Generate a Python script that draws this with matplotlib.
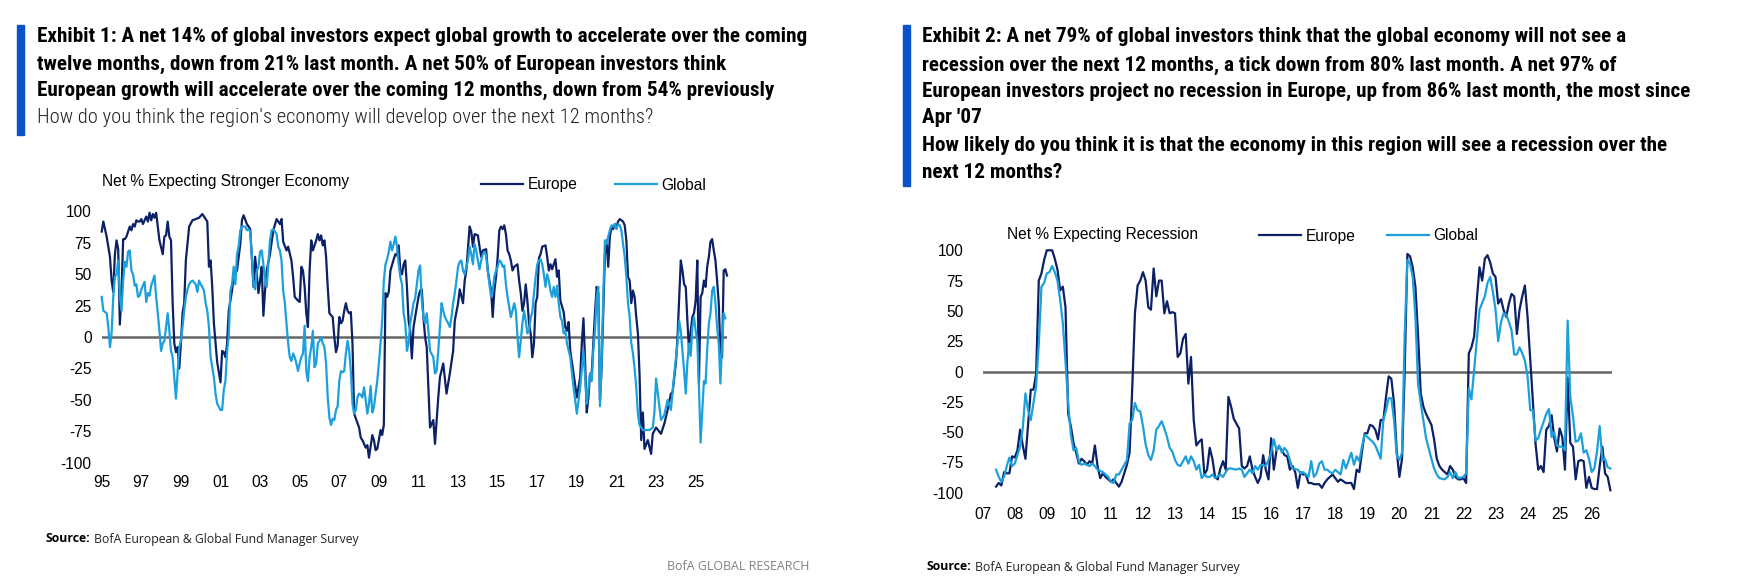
import numpy as np
import matplotlib
matplotlib.use("Agg")
import matplotlib.pyplot as plt
from matplotlib import font_manager as fm
from matplotlib.patches import Rectangle

plt.rcParams['font.family'] = ['Liberation Sans', 'DejaVu Sans']
plt.rcParams['axes.unicode_minus'] = False

# ---- data (month index, net %) ----
# Exhibit 1: months counted from Jan 1995
growth_europe = [(0,84),(1,92),(3,80),(5,64),(6,45),(7,36),(8,66),(9,77),(10,70),(11,10),(12,35),(13,78),(14,78),(15,80),(16,84),(17,88),(18,85),(19,90),(20,88),(21,93),(22,92),(23,92),(24,94),(25,90),(26,93),(27,96),(28,92),(29,99),(30,93),(31,98),(32,95),(33,99),(34,88),(35,77),(37,66),(38,80),(39,81),(40,92),(41,80),(42,77),(43,27),(44,-5),(45,-12),(46,-8),(47,-25),(48,-5),(49,19),(50,27),(51,61),(53,88),(55,93),(57,94),(59,95),(61,98),(63,94),(64,92),(65,56),(66,61),(67,40),(68,11),(69,-5),(70,-20),(72,-36),(73,-11),(74,-12),(75,-16),(76,-5),(77,21),(79,37),(80,48),(82,53),(84,74),(85,93),(86,97),(88,90),(89,88),(90,86),(91,64),(92,40),(93,64),(94,50),(95,35),(96,45),(97,56),(98,17),(99,37),(100,53),(102,66),(104,85),(106,94),(108,90),(109,94),(110,76),(112,69),(113,72),(115,61),(116,48),(117,32),(119,29),(120,28),(121,56),(122,53),(123,40),(124,19),(125,8),(126,53),(127,77),(128,69),(129,73),(130,77),(131,82),(132,77),(133,81),(134,73),(135,77),(136,64),(137,40),(138,19),(140,16),(141,0),(142,-12),(143,-7),(144,16),(145,11),(146,13),(147,21),(148,27),(149,21),(150,19),(151,20),(152,-5),(153,-61),(156,-72),(157,-80),(158,-82),(160,-88),(161,-86),(162,-96),(164,-78),(165,-82),(166,-90),(167,-89),(168,-82),(169,-74),(170,-78),(171,-70),(172,35),(173,32),(174,36),(175,53),(177,62),(178,66),(179,65),(180,73),(181,53),(182,50),(183,58),(184,61),(185,40),(186,13),(187,5),(188,-17),(189,8),(190,16),(191,24),(192,32),(193,37),(194,38),(195,16),(196,0),(197,-8),(199,-72),(201,-66),(202,-85),(204,-48),(205,-32),(207,-21),(209,-45),(211,-29),(213,-11),(214,13),(216,27),(217,38),(219,27),(220,45),(221,53),(223,88),(224,84),(225,72),(226,82),(228,81),(229,72),(230,64),(231,69),(233,70),(234,53),(235,45),(236,37),(237,16),(238,37),(239,48),(240,64),(241,85),(242,88),(243,86),(244,89),(245,82),(246,69),(247,66),(248,61),(249,53),(250,56),(252,58),(253,45),(254,35),(255,21),(256,27),(257,42),(258,29),(259,11),(260,3),(261,-16),(262,-5),(263,27),(264,32),(265,63),(266,66),(267,72),(269,73),(270,64),(271,53),(272,58),(273,54),(275,62),(276,48),(277,53),(278,29),(280,20),(281,8),(282,5),(283,12),(284,-11),(286,-29),(288,-48),(290,-32),(291,-5),(292,15),(293,-20),(294,-60),(295,-48),(296,-29),(297,-29),(298,-5),(299,20),(300,40),(301,35),(302,-50),(303,-25),(304,20),(305,66),(306,77),(307,56),(308,80),(309,88),(310,86),(311,90),(312,88),(313,92),(314,94),(315,93),(316,92),(317,89),(318,77),(319,48),(320,45),(321,27),(322,37),(323,32),(324,16),(325,3),(326,-30),(327,-82),(328,-60),(329,-89),(331,-82),(333,-93),(334,-77),(336,-72),(339,-77),(341,-69),(343,-58),(345,-45),(346,-44),(348,-21),(349,0),(351,61),(352,53),(353,42),(354,40),(355,13),(356,-11),(357,5),(358,16),(359,19),(360,29),(361,61),(362,-37),(363,32),(364,35),(365,45),(366,40),(367,56),(368,64),(369,76),(370,78),(371,69),(372,61),(373,45),(374,27),(375,-11),(376,-16),(377,53),(378,54),(379,49)]

growth_global = [(0,32),(1,21),(3,19),(4,8),(5,-8),(6,3),(7,32),(8,48),(9,50),(10,61),(11,32),(12,21),(13,45),(14,60),(15,56),(16,68),(17,69),(18,53),(19,50),(20,41),(21,42),(22,32),(23,33),(24,38),(25,41),(26,44),(27,28),(28,35),(29,33),(30,41),(31,45),(32,49),(33,32),(34,19),(35,5),(36,-11),(37,-5),(38,-3),(39,8),(40,19),(41,5),(42,-11),(43,-16),(44,-32),(45,-49),(46,-29),(47,-8),(48,-3),(49,8),(50,21),(51,32),(52,38),(53,42),(54,44),(55,45),(57,42),(58,36),(59,45),(60,42),(61,40),(62,37),(63,27),(64,21),(65,8),(66,-16),(67,-24),(68,-32),(69,-45),(70,-53),(72,-58),(73,-58),(74,-42),(75,-35),(76,-11),(77,0),(78,37),(79,42),(80,56),(81,42),(82,66),(83,72),(84,85),(85,88),(87,88),(88,85),(89,86),(90,84),(91,65),(92,42),(93,38),(94,53),(95,56),(96,68),(97,69),(98,58),(99,45),(100,40),(102,77),(103,85),(104,86),(106,82),(107,72),(108,69),(109,61),(110,37),(111,27),(112,11),(113,-5),(114,-16),(115,-19),(116,-13),(117,-16),(118,-21),(119,-27),(120,-21),(121,-16),(122,-13),(123,9),(124,-27),(125,-35),(126,-16),(127,-8),(128,5),(129,-24),(130,-21),(131,-5),(132,-3),(133,0),(134,-5),(135,-8),(136,-21),(137,-48),(138,-64),(139,-70),(140,-65),(141,-66),(142,-58),(143,-55),(144,-35),(145,-27),(146,-28),(147,-27),(148,-13),(149,-3),(150,-11),(151,-27),(152,-53),(153,-61),(154,-58),(155,-48),(156,-45),(157,-46),(158,-48),(159,-40),(160,-50),(161,-61),(162,-53),(163,-39),(164,-60),(165,-56),(166,-45),(167,-35),(168,-21),(169,-5),(170,13),(171,45),(172,58),(173,62),(174,68),(175,76),(176,69),(177,74),(178,80),(179,72),(180,58),(181,48),(182,42),(183,19),(184,11),(185,-11),(186,-5),(187,11),(188,19),(189,27),(190,31),(191,42),(192,53),(193,57),(194,29),(195,16),(196,11),(197,19),(198,5),(199,-11),(201,-16),(202,-29),(203,-27),(204,-11),(205,8),(206,27),(207,21),(208,16),(210,11),(211,8),(212,16),(213,27),(214,35),(215,45),(216,56),(217,60),(218,61),(219,53),(220,50),(221,56),(222,61),(223,72),(224,66),(225,58),(226,74),(227,69),(228,61),(229,54),(230,61),(231,66),(232,68),(233,65),(234,53),(235,42),(236,32),(237,37),(238,48),(239,53),(240,56),(241,61),(242,60),(243,56),(244,57),(245,42),(246,32),(247,24),(248,16),(249,21),(250,27),(251,21),(252,0),(253,-16),(255,11),(256,21),(257,13),(258,3),(259,5),(260,15),(261,20),(262,35),(263,48),(264,58),(265,61),(266,62),(267,58),(268,50),(269,40),(270,50),(271,45),(272,37),(273,32),(274,40),(275,32),(276,41),(277,27),(278,16),(279,13),(280,3),(281,5),(282,-5),(284,-16),(286,-40),(288,-61),(290,-40),(292,-11),(294,-53),(296,-29),(297,-35),(298,-10),(299,5),(300,32),(301,40),(302,-55),(303,-20),(304,32),(305,77),(306,74),(307,80),(308,85),(309,89),(310,88),(311,90),(312,86),(313,90),(314,89),(315,85),(316,74),(317,64),(318,48),(319,27),(320,16),(321,-5),(322,-13),(323,-25),(324,-40),(325,-61),(326,-70),(328,-74),(330,-74),(332,-74),(334,-72),(335,-60),(336,-33),(338,-55),(339,-66),(341,-62),(343,-50),(345,-58),(347,-30),(349,-5),(350,13),(351,5),(352,-11),(353,-27),(354,-45),(355,-20),(356,-5),(357,-15),(358,8),(359,16),(360,5),(361,-3),(362,-40),(363,-84),(364,-60),(365,-35),(366,-37),(367,-10),(368,11),(369,19),(370,37),(371,40),(372,27),(373,8),(374,-5),(375,-37),(376,-5),(377,19),(378,15)]

# Exhibit 2: months counted from Jan 2007
recession_europe = [(5,-95),(6,-92),(7,-94),(8,-83),(9,-84),(10,-84),(11,-70),(12,-71),(13,-65),(14,-48),(15,-61),(16,-72),(17,-43),(18,-15),(19,-15),(20,-2),(21,75),(22,81),(23,92),(24,100),(25,100),(26,100),(27,93),(28,84),(29,67),(30,70),(31,53),(32,-35),(33,-45),(34,-59),(35,-67),(36,-76),(37,-72),(38,-74),(39,-77),(40,-74),(41,-76),(42,-61),(43,-78),(44,-88),(45,-84),(46,-87),(47,-89),(48,-91),(49,-89),(50,-92),(51,-95),(52,-91),(53,-84),(54,-77),(55,-67),(56,-13),(57,48),(58,71),(59,75),(60,82),(61,75),(62,53),(63,51),(64,85),(65,62),(66,75),(67,75),(68,48),(69,58),(70,48),(71,49),(72,48),(73,12),(74,15),(75,27),(76,31),(77,-10),(78,12),(79,-40),(80,-61),(81,-58),(82,-56),(83,-85),(84,-81),(85,-63),(86,-72),(87,-87),(88,-89),(89,-80),(90,-74),(91,-81),(92,-21),(93,-29),(94,-39),(95,-43),(96,-47),(97,-78),(98,-80),(99,-78),(100,-70),(101,-81),(102,-87),(103,-92),(104,-87),(105,-69),(106,-81),(107,-89),(108,-55),(109,-81),(110,-65),(111,-62),(112,-65),(113,-69),(114,-70),(115,-81),(116,-78),(117,-83),(118,-96),(119,-83),(120,-85),(121,-85),(122,-92),(123,-92),(124,-93),(125,-93),(126,-93),(127,-96),(128,-92),(129,-89),(131,-85),(132,-88),(133,-91),(134,-89),(136,-92),(138,-92),(139,-97),(140,-81),(141,-83),(142,-66),(143,-51),(144,-51),(145,-44),(146,-45),(147,-48),(148,-56),(149,-40),(150,-40),(151,-21),(152,-4),(153,-6),(154,-26),(155,-65),(156,-87),(157,-72),(158,1),(159,97),(160,95),(161,86),(162,70),(163,30),(164,-18),(165,-29),(166,-35),(168,-44),(169,-56),(170,-72),(171,-78),(172,-81),(173,-83),(174,-85),(175,-78),(176,-81),(177,-87),(178,-89),(179,-89),(180,-88),(181,-92),(182,15),(183,20),(184,29),(185,59),(186,86),(187,75),(188,93),(189,96),(190,90),(191,81),(192,78),(193,56),(194,60),(195,51),(196,45),(197,56),(198,64),(199,62),(200,31),(201,51),(202,62),(203,71),(204,45),(205,10),(206,-25),(207,-60),(208,-81),(209,-78),(210,-83),(211,-48),(212,-45),(213,-36),(214,-55),(215,-66),(216,-47),(217,-54),(218,-81),(219,-5),(220,-59),(221,-62),(222,-89),(223,-74),(224,-73),(225,-74),(226,-96),(227,-87),(228,-96),(229,-97),(230,-97),(231,-78),(232,-62),(233,-84),(234,-87),(235,-98)]

recession_global = [(5,-81),(6,-87),(7,-91),(8,-87),(9,-78),(10,-71),(11,-78),(12,-76),(13,-69),(14,-62),(15,-47),(16,-18),(17,-32),(18,-40),(19,-26),(20,-12),(21,23),(22,70),(23,73),(24,81),(25,82),(26,87),(27,82),(28,75),(29,59),(30,40),(31,8),(32,-26),(33,-52),(34,-65),(35,-63),(36,-74),(37,-77),(38,-76),(40,-78),(41,-76),(42,-78),(43,-81),(45,-83),(46,-85),(47,-87),(48,-91),(49,-92),(50,-85),(51,-85),(52,-81),(53,-77),(54,-73),(55,-43),(56,-40),(57,-26),(58,-32),(59,-33),(60,-45),(61,-60),(62,-69),(63,-73),(64,-65),(65,-48),(66,-45),(67,-41),(68,-47),(69,-54),(70,-63),(71,-66),(72,-73),(73,-77),(74,-78),(75,-74),(76,-70),(77,-76),(78,-70),(79,-74),(80,-81),(81,-77),(82,-88),(83,-85),(84,-87),(85,-87),(86,-85),(87,-88),(89,-85),(90,-87),(91,-83),(92,-80),(93,-80),(95,-81),(96,-80),(97,-81),(98,-87),(99,-84),(100,-81),(101,-84),(102,-78),(103,-81),(104,-77),(106,-78),(107,-73),(108,-67),(109,-56),(110,-65),(111,-61),(112,-67),(113,-63),(114,-66),(115,-73),(116,-80),(118,-81),(119,-84),(120,-83),(122,-87),(123,-74),(124,-87),(125,-84),(126,-76),(127,-74),(128,-81),(129,-81),(130,-83),(131,-84),(132,-81),(134,-85),(135,-73),(136,-80),(138,-67),(139,-77),(140,-70),(141,-74),(142,-62),(143,-52),(145,-56),(146,-58),(147,-61),(149,-72),(150,-40),(151,-32),(152,-22),(153,-22),(154,-40),(155,-69),(156,-73),(157,-67),(158,31),(159,92),(160,89),(161,78),(162,45),(163,-10),(164,-26),(166,-55),(168,-72),(169,-80),(170,-85),(171,-88),(173,-89),(174,-87),(175,-83),(176,-88),(177,-83),(178,-88),(180,-87),(181,-84),(182,-14),(183,-23),(184,1),(185,26),(186,51),(188,62),(189,73),(190,78),(191,66),(192,51),(193,25),(194,40),(195,48),(196,47),(197,41),(198,34),(199,14),(200,14),(201,20),(202,15),(203,9),(204,-4),(205,-32),(206,-32),(207,-57),(208,-55),(209,-48),(211,-35),(212,-31),(213,-54),(214,-50),(215,-61),(216,-62),(217,-62),(218,-65),(219,42),(220,-21),(221,-37),(222,-58),(223,-57),(224,-51),(225,-67),(226,-65),(227,-72),(228,-83),(229,-80),(230,-66),(231,-45),(232,-73),(233,-72),(234,-79),(235,-80)]

growth_ticks = list(range(1995, 2026, 2))
growth_ticklabels = ["95", "97", "99", "01", "03", "05", "07", "09", "11", "13", "15", "17", "19", "21", "23", "25"]
recession_ticks = list(range(2007, 2027))
recession_ticklabels = ["07", "08", "09", "10", "11", "12", "13", "14", "15", "16", "17", "18", "19", "20", "21", "22", "23", "24", "25", "26"]

title1 = ["Exhibit 1: A net 14% of global investors expect global growth to accelerate over the coming",
          "twelve months, down from 21% last month. A net 50% of European investors think",
          "European growth will accelerate over the coming 12 months, down from 54% previously"]
subtitle1 = "How do you think the region's economy will develop over the next 12 months?"
title2 = ["Exhibit 2: A net 79% of global investors think that the global economy will not see a",
          "recession over the next 12 months, a tick down from 80% last month. A net 97% of",
          "European investors project no recession in Europe, up from 86% last month, the most since",
          "Apr '07",
          "How likely do you think it is that the economy in this region will see a recession over the",
          "next 12 months?"]

NAVY = "#0b2065"
LIGHT = "#1ba0dc"
BAR = "#0a52c8"
W, H = 1760, 588

# pick a narrow face for the headers if one is installed
installed = {f.name for f in fm.fontManager.ttflist}
head_family = 'Liberation Sans'
head_stretch = 'normal'
for cand in ['Roboto Condensed', 'Liberation Sans Narrow', 'Open Sans Condensed', 'Noto Sans Condensed']:
    if cand in installed:
        head_family = cand
        break
else:
    if any(f.name == 'DejaVu Sans' and f.stretch in ('condensed', 'semi-condensed')
           for f in fm.fontManager.ttflist):
        head_family = 'DejaVu Sans'
        head_stretch = 'condensed'
src_family = 'Open Sans' if 'Open Sans' in installed else 'Liberation Sans'

fig = plt.figure(figsize=(W / 100, H / 100), dpi=100)


def fx(x):
    return x / W


def fy(y):
    return 1 - y / H


def series(pairs, start):
    a = np.array(pairs, dtype=float)
    return start + a[:, 0] / 12.0, a[:, 1]


def make_axes(rect, start, end, ticks, ticklabels, ypad):
    ax = fig.add_axes(rect)
    ax.set_xlim(start, end)
    ax.set_ylim(-100, 100)
    ax.set_yticks(range(-100, 101, 25))
    ax.set_xticks(ticks)
    ax.set_xticklabels(ticklabels)
    for s in ax.spines.values():
        s.set_visible(False)
    ax.tick_params(axis='both', length=0, labelsize=11.2)
    ax.tick_params(axis='y', pad=ypad)
    ax.tick_params(axis='x', pad=9)
    ax.axhline(0, color="#666666", lw=1.8, zorder=1)
    ax.patch.set_alpha(0)
    return ax


# ---- Exhibit 1 ----
ax1 = make_axes([fx(101.7), fy(462.7), fx(727) - fx(101.7), (462.7 - 211.5) / H],
                1995, 1995 + 379 / 12, growth_ticks, growth_ticklabels, 7.2)
x, y = series(growth_europe, 1995)
l1, = ax1.plot(x, y, color=NAVY, lw=1.6, clip_on=False, zorder=2, label="Europe")
x, y = series(growth_global, 1995)
l2, = ax1.plot(x, y, color=LIGHT, lw=1.6, clip_on=False, zorder=3, label="Global")
fig.text(fx(101.7), fy(181.7), "Net % Expecting Stronger Economy", fontsize=11.2, va="center")
fig.legend(handles=[l1, l2], loc="center left", bbox_to_anchor=(fx(481), fy(185)), ncol=2,
           frameon=False, fontsize=11.2, handlelength=2.7, handletextpad=0.3,
           columnspacing=2.4, borderpad=0, borderaxespad=0)

# ---- Exhibit 2 ----
ax2 = make_axes([fx(982.7), fy(492.7), fx(1611.7) - fx(982.7), (492.7 - 250.3) / H],
                2007, 2007 + 235.5 / 12, recession_ticks, recession_ticklabels, 14)
ax2.tick_params(axis='x', pad=10)
x, y = series(recession_europe, 2007)
r1, = ax2.plot(x, y, color=NAVY, lw=1.6, clip_on=False, zorder=2, label="Europe")
x, y = series(recession_global, 2007)
r2, = ax2.plot(x, y, color=LIGHT, lw=1.6, clip_on=False, zorder=3, label="Global")
fig.text(fx(1006.7), fy(235), "Net % Expecting Recession", fontsize=11.2, va="center")
fig.legend(handles=[r1, r2], loc="center left", bbox_to_anchor=(fx(1259.3), fy(236)), ncol=2,
           frameon=False, fontsize=11.2, handlelength=2.7, handletextpad=0.3,
           columnspacing=2.0, borderpad=0, borderaxespad=0)

# ---- headers ----
fig.patches.append(Rectangle((fx(17), fy(135)), 7 / W, 110 / H, transform=fig.transFigure,
                             color=BAR, zorder=5))
fig.patches.append(Rectangle((fx(903), fy(186)), 7 / W, 161 / H, transform=fig.transFigure,
                             color=BAR, zorder=5))

hfam = [head_family, 'DejaVu Sans']
t1 = [fig.text(fx(37), fy(yc), s, fontsize=14, fontweight="bold", family=hfam,
               fontstretch=head_stretch, va="center")
      for s, yc in zip(title1, [37, 64, 90])]
st1 = fig.text(fx(37), fy(117), subtitle1, fontsize=14, family=hfam, fontweight="light",
               fontstretch=head_stretch, va="center", color="#222222")
t2 = [fig.text(fx(922), fy(yc), s, fontsize=14, fontweight="bold", family=hfam,
               fontstretch=head_stretch, va="center")
      for s, yc in zip(title2, [37, 65, 91, 117, 146, 173])]

sfam = [src_family, 'DejaVu Sans']
src_bold = []
src_reg = []
for xs, ys in [(45, 539), (926, 567)]:
    b = fig.text(fx(xs), fy(ys), "Source:", fontsize=10, fontweight="bold", family=sfam, va="center")
    r = fig.text(fx(xs), fy(ys), "BofA European & Global Fund Manager Survey", fontsize=10,
                 family=sfam, va="center", color="#222222")
    src_bold.append(b)
    src_reg.append(r)
brand = fig.text(fx(667), fy(566), "BofA GLOBAL RESEARCH", fontsize=10, family=sfam,
                 va="center", color="#808080")

# size the header fonts to the measured line widths of the reference
fig.canvas.draw()
rend = fig.canvas.get_renderer()


def wid(t):
    return t.get_window_extent(rend).width


k = 0.5 * (773 / wid(t1[0]) + 770 / wid(t2[2]))
for t in t1 + t2:
    t.set_fontsize(14 * k)
st1.set_fontsize(14 * 614 / wid(st1))
ks = 310 / (wid(src_bold[0]) + wid(src_reg[0]))
for b, r in zip(src_bold, src_reg):
    b.set_fontsize(10 * ks)
    r.set_fontsize(10 * ks)
brand.set_fontsize(10 * 141 / wid(brand))
fig.canvas.draw()
for b, r in zip(src_bold, src_reg):
    bx = b.get_window_extent(rend).x1
    r.set_x((bx + 4) / W)

fig.savefig("out.png", dpi=100)
